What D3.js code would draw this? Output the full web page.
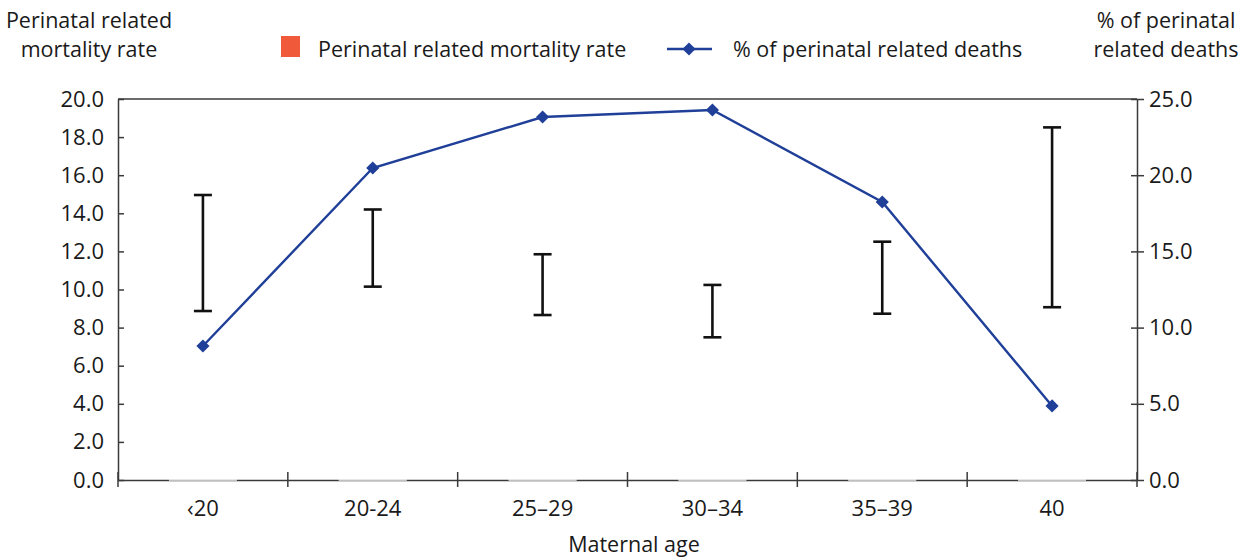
<!DOCTYPE html>
<html>
<head>
<meta charset="utf-8">
<script src="https://cdn.jsdelivr.net/npm/d3@7"></script>
<style>
  body { margin: 0; background: #fff; }
  svg { display: block; font-family: "Open Sans", Lato, sans-serif; }
</style>
</head>
<body>
<svg id="chart" width="1248" height="558"></svg>
<script>
// Maternal age groups
const categories = ["\u203920", "20-24", "25\u201329", "30\u201334", "35\u201339", "40"];
// Perinatal related mortality rate (per 1000) with confidence limits
const rate = [11.6, 12.1, 10.2, 8.75, 10.5, 13.2];
const rateLow = [8.87, 10.15, 8.66, 7.49, 8.73, 9.07];
const rateHigh = [14.96, 14.2, 11.85, 10.24, 12.51, 18.51];
// Share of all perinatal related deaths (%)
const pctDeaths = [8.79, 20.47, 23.82, 24.28, 18.24, 4.86];
const leftTicks = [0, 2, 4, 6, 8, 10, 12, 14, 16, 18, 20];
const rightTicks = [0, 5, 10, 15, 20, 25];

const svg = d3.select("#chart");
const mLeft = 118, mRight = 1137, mTop = 99, mBottom = 480;
const axisColor = "#3a3a3a";
const lineColor = "#1f3f98";
const font = "'Open Sans', sans-serif";

const x = d3.scaleBand().domain(categories).range([mLeft, mRight]);
const yL = d3.scaleLinear().domain([0, 20]).range([mBottom, mTop]);
const yR = d3.scaleLinear().domain([0, 25]).range([mBottom, mTop]);

// plot frame top edge
svg.append("line").attr("x1", mLeft).attr("x2", mRight).attr("y1", mTop).attr("y2", mTop)
  .attr("stroke", axisColor).attr("stroke-width", 1.5);

// left axis
const gL = svg.append("g").attr("transform", `translate(${mLeft},0)`)
  .call(d3.axisLeft(yL).tickValues(leftTicks).tickFormat(d3.format(".1f")).tickSizeInner(7).tickSizeOuter(0));
gL.selectAll(".tick line").attr("x2", 6);
gL.selectAll(".tick text").attr("x", -14);

// right axis
const gR = svg.append("g").attr("transform", `translate(${mRight},0)`)
  .call(d3.axisRight(yR).tickValues(rightTicks).tickFormat(d3.format(".1f")).tickSizeInner(7).tickSizeOuter(0));
gR.selectAll(".tick line").attr("x1", -6);
gR.selectAll(".tick text").attr("x", 12);

// bottom axis with ticks on band boundaries
const gB = svg.append("g").attr("transform", `translate(0,${mBottom})`)
  .call(d3.axisBottom(x).tickSize(0).tickSizeOuter(0));
gB.selectAll(".tick text").attr("y", 20);
const bounds = categories.map(c => x(c)).concat([mRight]);
gB.selectAll(".bnd").data(bounds).join("line").attr("class", "bnd")
  .attr("x1", d => d).attr("x2", d => d).attr("y1", -8).attr("y2", 7)
  .attr("stroke", axisColor).attr("stroke-width", 1.5);

[gL, gR, gB].forEach(g => {
  g.selectAll(".domain").attr("stroke", axisColor).attr("stroke-width", 1.5);
  g.selectAll(".tick line").attr("stroke", axisColor).attr("stroke-width", 1.5);
  g.selectAll(".tick text").attr("fill", "#1a1a1a").style("font-size", "22px").style("font-family", font);
});

// rate bars (unfilled) resting on the baseline
const bw = x.bandwidth() * 0.4;
svg.selectAll(".bar").data(rate).join("rect").attr("class", "bar")
  .attr("x", (d, i) => x(categories[i]) + x.bandwidth() / 2 - bw / 2)
  .attr("width", bw)
  .attr("y", d => yL(d))
  .attr("height", d => yL(0) - yL(d) + 0.6)
  .attr("fill", "#fff");
svg.selectAll(".barbase").data(rate).join("line").attr("class", "barbase")
  .attr("x1", (d, i) => x(categories[i]) + x.bandwidth() / 2 - bw / 2)
  .attr("x2", (d, i) => x(categories[i]) + x.bandwidth() / 2 + bw / 2)
  .attr("y1", mBottom).attr("y2", mBottom)
  .attr("stroke", "#cfcfcf").attr("stroke-width", 1);

// confidence interval whiskers
const cx = i => x(categories[i]) + x.bandwidth() / 2;
const eb = svg.append("g").attr("stroke", "#111").attr("stroke-width", 2.6);
categories.forEach((c, i) => {
  eb.append("line").attr("x1", cx(i)).attr("x2", cx(i)).attr("y1", yL(rateLow[i])).attr("y2", yL(rateHigh[i]));
  eb.append("line").attr("x1", cx(i) - 9).attr("x2", cx(i) + 9).attr("y1", yL(rateLow[i])).attr("y2", yL(rateLow[i]));
  eb.append("line").attr("x1", cx(i) - 9).attr("x2", cx(i) + 9).attr("y1", yL(rateHigh[i])).attr("y2", yL(rateHigh[i]));
});

// % of deaths line with diamond markers
const line = d3.line().x((d, i) => cx(i)).y(d => yR(d));
svg.append("path").datum(pctDeaths).attr("d", line)
  .attr("fill", "none").attr("stroke", lineColor).attr("stroke-width", 2.4);
const diamond = d3.symbol().type(d3.symbolDiamond2).size(110);
svg.selectAll(".mk").data(pctDeaths).join("path").attr("class", "mk")
  .attr("d", diamond)
  .attr("transform", (d, i) => `translate(${cx(i)},${yR(d)})`)
  .attr("fill", lineColor);

// axis titles
const txt = (xp, yp, s, anchor) => svg.append("text").attr("x", xp).attr("y", yp)
  .attr("text-anchor", anchor || "middle").attr("fill", "#1a1a1a")
  .style("font-size", "21.5px").style("font-family", font).text(s);
txt(89, 28, "Perinatal related");
txt(89, 57, "mortality rate");
txt(1166, 28, "% of perinatal");
txt(1166, 57, "related deaths");
txt(634, 552, "Maternal age");

// legend
svg.append("rect").attr("x", 281).attr("y", 36).attr("width", 19).attr("height", 21).attr("fill", "#f05a3a");
txt(318, 57, "Perinatal related mortality rate", "start");
svg.append("line").attr("x1", 667).attr("x2", 712).attr("y1", 49).attr("y2", 49)
  .attr("stroke", lineColor).attr("stroke-width", 2.4);
svg.append("path").attr("d", diamond).attr("transform", "translate(689,49)").attr("fill", lineColor);
txt(733, 57, "% of perinatal related deaths", "start");
</script>
</body>
</html>
